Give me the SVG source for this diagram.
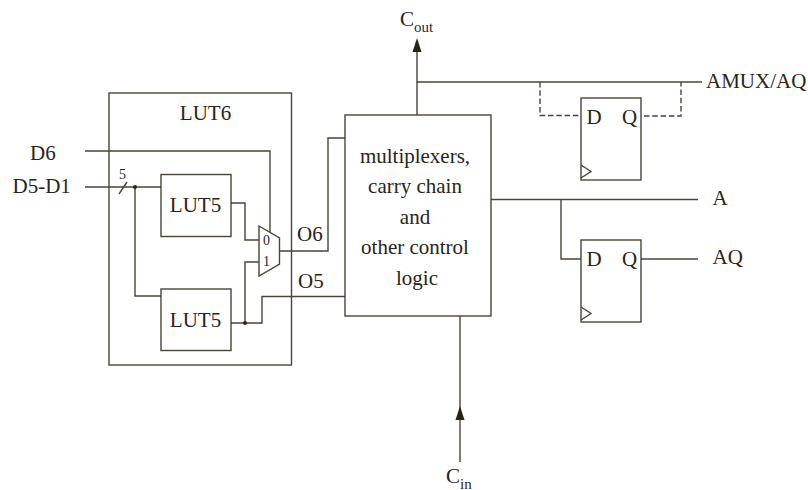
<svg xmlns="http://www.w3.org/2000/svg" width="808" height="490" viewBox="0 0 808 490">
<style>
text{font-family:"Liberation Serif","Times New Roman",serif;font-size:21px;fill:#2a2418}
.m{text-anchor:middle}
.s{font-size:15px}
.n{font-size:14px}
.b,.w{fill:none;stroke:#4a4438;stroke-width:1.4}
.b{fill:#fff}
.d{stroke-dasharray:5.500 2.800}
.k{fill:#2a2418}
</style>
<rect width="808" height="490" fill="#fff"/>
<g id="lut6"><rect class="b" x="109" y="93" width="182.500" height="272"/><text class="m" x="205.500" y="120">LUT6</text></g>
<g id="connectors">
<path class="w" d="M85 151H270V232"/>
<path class="w" d="M85 187H161"/>
<path class="w" d="M119 194L127 182"/>
<path class="w" d="M135 187V296H161"/>
<path class="w" d="M231 203H245V240H259"/>
<path class="w" d="M231 323H262V296.500H345"/>
<path class="w" d="M245 323V262H259"/>
<path class="w" d="M279.500 251H328V138H345"/>
<path class="w" d="M417 115V50"/>
<path class="w" d="M417 82H702"/>
<path class="w d" d="M540 82V115.500H580"/>
<path class="w d" d="M644 116H681V82"/>
<path class="w" d="M491 199.500H698"/>
<path class="w" d="M561 199.500V259H581"/>
<path class="w" d="M641 259H698"/>
<path class="w" d="M460 316V462"/>
<circle class="k" cx="135" cy="187" r="2"/>
<circle class="k" cx="245" cy="323" r="2"/>
<path class="k" d="M417 38L412.500 52H421.500Z"/>
<path class="k" d="M460 406L455.500 420H464.500Z"/>
</g>
<g id="lut5a"><rect class="b" x="161" y="174.500" width="70" height="62"/><text class="m" x="195.500" y="212">LUT5</text></g>
<g id="lut5b"><rect class="b" x="161" y="289" width="70" height="61.500"/><text class="m" x="195.500" y="327">LUT5</text></g>
<g id="mux"><path class="b" d="M259 226L279.500 238V264L259 276Z"/><text class="m n" x="266.500" y="245">0</text><text class="m n" x="266.500" y="266">1</text></g>
<g id="logic"><rect class="b" x="345" y="115" width="146" height="201"/>
<text class="m" x="415" y="162.500">multiplexers,</text>
<text class="m" x="415" y="193">carry chain</text>
<text class="m" x="415" y="224">and</text>
<text class="m" x="415" y="254">other control</text>
<text class="m" x="417" y="284.500">logic</text></g>
<g id="ff1"><rect class="b" x="581" y="98" width="60" height="82"/><path class="w" d="M581 165L591 171.500L581 178"/><text x="586.500" y="124">D</text><text x="622" y="124">Q</text></g>
<g id="ff2"><rect class="b" x="581" y="240" width="60" height="82"/><path class="w" d="M581 307L591 313.500L581 320"/><text x="586.500" y="265.500">D</text><text x="622" y="265.500">Q</text></g>
<g id="labels">
<text x="30" y="160">D6</text>
<text x="12.500" y="193">D5-D1</text>
<text class="n" x="119" y="179">5</text>
<text x="297" y="240.500">O6</text>
<text x="298" y="288">O5</text>
<text x="400" y="26">C<tspan class="s" dy="6">out</tspan></text>
<text x="706" y="88">AMUX/AQ</text>
<text x="712.500" y="205">A</text>
<text x="712.500" y="264">AQ</text>
<text x="446" y="483">C<tspan class="s" dy="5.500">in</tspan></text>
</g>
</svg>
